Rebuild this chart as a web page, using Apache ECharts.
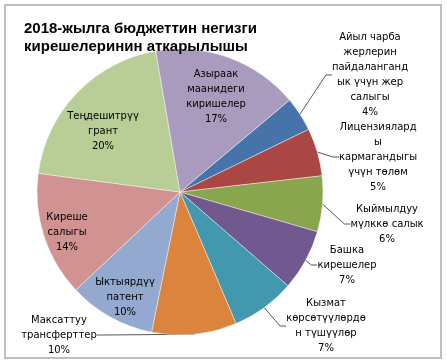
<!DOCTYPE html>
<html>
<head>
<meta charset="utf-8">
<script src="https://cdn.jsdelivr.net/npm/echarts@6/dist/echarts.min.js"></script>
<style>
html,body{margin:0;padding:0;background:#fff;}
#c{width:447px;height:364px;}
</style>
</head>
<body>
<div id="c"></div>
<script>
// ---- data ----
const titleText = "2018-жылга бюджеттин негизги\nкирешелеринин аткарылышы";
const categories = [
  "Айыл чарба\nжерлерин\nпайдаланганд\nык үчүн жер\nсалыгы",
  "Лицензиялард\nы\nкармагандыгы\nүчүн төлөм",
  "Кыймылдуу\nмүлккө салык",
  "Башка\nкирешелер",
  "Кызмат\nкөрсөтүүлөрдө\nн түшүүлөр",
  "Максаттуу\nтрансферттер",
  "Ыктыярдүү\nпатент",
  "Киреше\nсалыгы",
  "Теңдешитрүү\nгрант",
  "Азыраак\nмаанидеги\nкиришелер"
];
const values = [3.9, 5.4, 6.3, 6.9, 7.2, 9.6, 9.8, 14.1, 20.2, 16.6];
const outsideLabel = [true, true, true, true, true, true, false, false, false, false];

// ---- styles / layout ----
const colors = ['#4674AA', '#AA4643', '#89A54E', '#71588F', '#4198AF', '#DB843D',
                '#93A9CF', '#D19392', '#B9CD96', '#A99BBD'];
const labelPos = [
  [370, 75], [378, 157], [387, 224], [347, 265], [326, 326],
  [59, 335], [125, 297], [67, 232], [103, 131], [216, 97]
];

const chart = echarts.init(document.getElementById('c'), null, {renderer: 'canvas'});
const data = categories.map((n, i) => ({
  name: n,
  value: values[i],
  itemStyle: {color: colors[i]},
  label: {position: outsideLabel[i] ? 'outside' : 'inside'},
  labelLine: {show: outsideLabel[i]}
}));

chart.setOption({
  animation: false,
  graphic: [{
    type: 'rect',
    shape: {x: 5, y: 5, width: 436, height: 353},
    style: {fill: 'none', stroke: '#bfbfbf', lineWidth: 2},
    silent: true
  }],
  title: {
    text: titleText,
    left: 19,
    top: 15,
    textStyle: {
      fontFamily: 'Liberation Sans, Arial, sans-serif',
      fontSize: 15,
      fontWeight: 'bold',
      color: '#000',
      lineHeight: 18
    }
  },
  series: [{
    type: 'pie',
    center: [180, 192],
    radius: 143,
    startAngle: 40,
    clockwise: true,
    avoidLabelOverlap: false,
    data: data,
    itemStyle: {borderColor: 'rgba(255,255,255,0.6)', borderWidth: 0.7},
    label: {
      fontFamily: 'DejaVu Sans, sans-serif',
      fontSize: 10,
      lineHeight: 15,
      color: '#000',
      align: 'center',
      formatter: p => p.name + '\n' + Math.round(p.percent) + '%'
    },
    labelLine: {
      show: true,
      length: 10,
      length2: 6,
      smooth: false,
      lineStyle: {color: '#555', width: 1}
    },
    labelLayout: function (params) {
      const p = labelPos[params.dataIndex];
      return {x: p[0], y: p[1], align: 'center', verticalAlign: 'middle'};
    },
    emphasis: {disabled: true}
  }]
});
</script>
</body>
</html>
